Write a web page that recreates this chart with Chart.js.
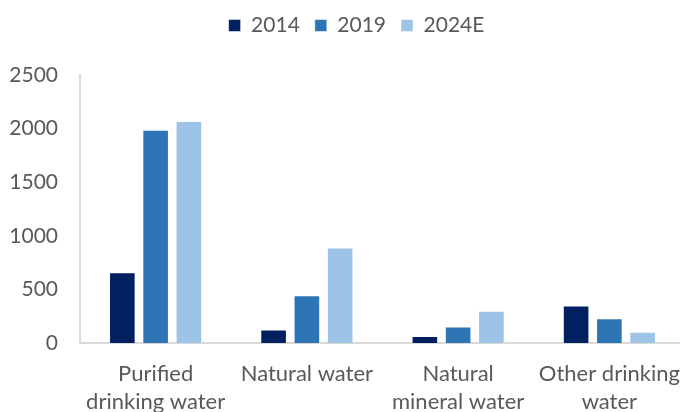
<!DOCTYPE html>
<html>
<head>
<meta charset="utf-8">
<script src="https://cdn.jsdelivr.net/npm/chart.js@4/dist/chart.umd.min.js"></script>
<style>
  html, body { margin: 0; padding: 0; background: #fff; overflow: hidden; }
  #wrap { width: 685px; height: 430px; }
</style>
</head>
<body>
<div id="wrap"><canvas id="grafico" width="685" height="430"></canvas></div>
<script>
const categorias = [
  ['Purified', 'drinking water'],
  'Natural water',
  ['Natural', 'mineral water'],
  ['Other drinking', 'water']
]
const anos = ['2014', '2019', '2024E']
const valores2014 = [660, 125, 65, 350]
const valores2019 = [1990, 445, 155, 230]
const valores2024 = [2070, 890, 300, 105]
const cores = ['#002060', '#2E75B6', '#9DC3E6']
const ticksY = [0, 500, 1000, 1500, 2000, 2500]

const corTexto = '#595959'
const fonte = 'Lato, "Open Sans", sans-serif'

const series = [valores2014, valores2019, valores2024]

// espaço extra abaixo da legenda e leve deslocamento para a direita
const ajusteLegenda = {
  id: 'ajusteLegenda',
  beforeInit(chart) {
    const fitOriginal = chart.legend.fit
    chart.legend.fit = function () {
      fitOriginal.bind(chart.legend)()
      this.height += 29
    }
  },
  afterLayout(chart) {
    chart.legend.left += 14
    chart.legend.right += 14
  }
}

const ctx = document.getElementById('grafico').getContext('2d')
new Chart(ctx, {
  type: 'bar',
  data: {
    labels: categorias,
    datasets: series.map((vals, i) => ({
      label: anos[i],
      data: vals,
      backgroundColor: cores[i],
      borderColor: 'rgba(255,255,255,0.5)',
      borderWidth: 1,
      barPercentage: 0.8,
      categoryPercentage: 0.66,
    }))
  },
  plugins: [ajusteLegenda],
  options: {
    responsive: false,
    devicePixelRatio: 1,
    animation: false,
    plugins: {
      tooltip: { enabled: false },
      legend: {
        position: 'top',
        labels: {
          color: corTexto,
          font: { family: fonte, size: 21 },
          boxWidth: 12,
          boxHeight: 12,
          padding: 15,
        }
      }
    },
    scales: {
      x: {
        grid: { display: false, drawTicks: false },
        border: { display: true, color: '#d9d9d9', width: 2 },
        ticks: {
          color: corTexto,
          font: { family: fonte, size: 22, lineHeight: '28px' },
          padding: 17,
          maxRotation: 0,
          autoSkip: false,
        },
        afterFit: (scale) => {
          scale.height = 87
          scale.paddingLeft = 0
          scale.paddingRight = 0
        }
      },
      y: {
        min: 0,
        max: 2500,
        afterBuildTicks: (scale) => { scale.ticks = ticksY.map(v => ({ value: v })) },
        grid: { display: false, drawTicks: false },
        border: { display: true, color: '#d9d9d9', width: 2 },
        ticks: {
          color: corTexto,
          font: { family: fonte, size: 21 },
          padding: 22,
          callback: (v) => String(v),
        },
        afterFit: (scale) => { scale.width = 80 }
      }
    }
  }
})
</script>
</body>
</html>
